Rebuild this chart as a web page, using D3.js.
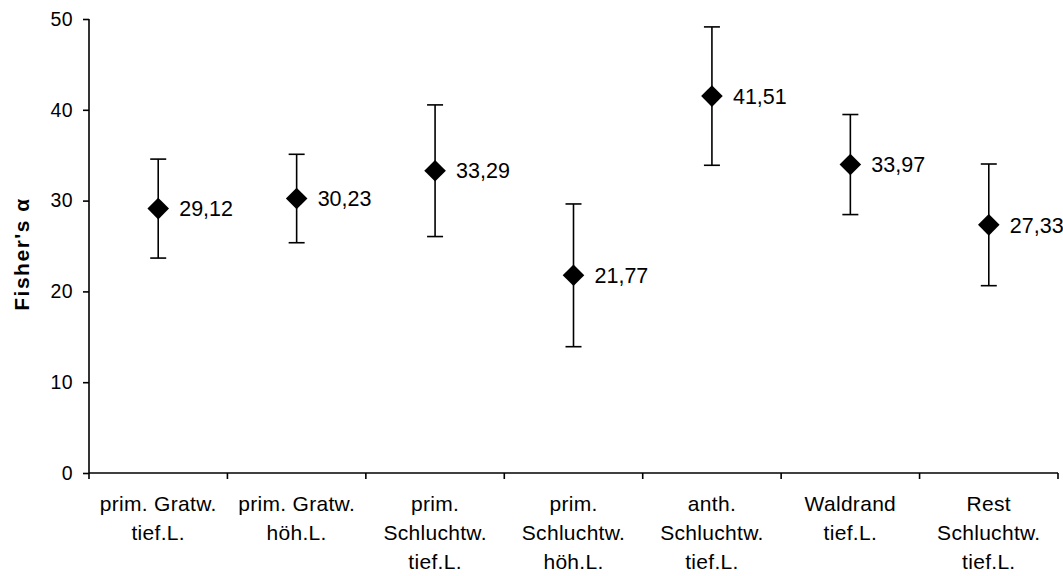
<!DOCTYPE html>
<html>
<head>
<meta charset="utf-8">
<script src="https://cdn.jsdelivr.net/npm/d3@7"></script>
<style>
  html, body { margin: 0; padding: 0; background: #fff; }
  svg { display: block; font-family: "Liberation Sans", Arial, sans-serif; }
</style>
</head>
<body>
<svg id="chart" width="1063" height="576"></svg>
<script>
const categories = [
  ["prim. Gratw.", "tief.L."],
  ["prim. Gratw.", "höh.L."],
  ["prim.", "Schluchtw.", "tief.L."],
  ["prim.", "Schluchtw.", "höh.L."],
  ["anth.", "Schluchtw.", "tief.L."],
  ["Waldrand", "tief.L."],
  ["Rest", "Schluchtw.", "tief.L."]
];
const values = [29.12, 30.23, 33.29, 21.77, 41.51, 33.97, 27.33];
const errors = [5.45, 4.87, 7.25, 7.86, 7.62, 5.51, 6.70];
const labels = ["29,12", "30,23", "33,29", "21,77", "41,51", "33,97", "27,33"];
const yTicks = [0, 10, 20, 30, 40, 50];
const yTitle = "Fisher's α";

(function () {
const svg = d3.select("#chart");
const mLeft = 89, mRight = 1058, mTop = 19, mBottom = 473;

const x = d3.scaleBand().domain(d3.range(categories.length)).range([mLeft, mRight]).padding(0);
const y = d3.scaleLinear().domain([0, 50]).range([mBottom, mTop]);

// y axis
const yAxis = d3.axisLeft(y).tickValues(yTicks).tickSize(6).tickPadding(10);
const gy = svg.append("g").attr("transform", `translate(${mLeft},0)`).call(yAxis);
gy.select(".domain").attr("stroke", "#000").attr("stroke-width", 1.6).attr("d", `M0,${mBottom}V${mTop}`);
gy.selectAll(".tick line").attr("stroke", "#000").attr("stroke-width", 1.6);
gy.selectAll(".tick text").attr("fill", "#000").style("font-size", "19.5px").style("letter-spacing", "0.4px");

// x axis line with boundary ticks
const gx = svg.append("g");
gx.append("line").attr("x1", mLeft).attr("x2", mRight).attr("y1", mBottom).attr("y2", mBottom)
  .attr("stroke", "#000").attr("stroke-width", 1.6);
const bounds = d3.range(categories.length + 1).map(i => i < categories.length ? x(i) : x(categories.length - 1) + x.bandwidth());
gx.selectAll("line.tk").data(bounds).join("line").attr("class", "tk")
  .attr("x1", d => d).attr("x2", d => d).attr("y1", mBottom).attr("y2", mBottom + 6)
  .attr("stroke", "#000").attr("stroke-width", 1.6);

// category labels
categories.forEach((lines, i) => {
  const t = svg.append("text").attr("text-anchor", "middle").attr("fill", "#000")
    .style("font-size", "21px").style("letter-spacing", "0.3px");
  lines.forEach((ln, j) => {
    t.append("tspan").attr("x", x(i) + x.bandwidth() / 2).attr("y", 511 + j * 29).text(ln);
  });
});

// y title
svg.append("text")
  .attr("transform", `translate(${29},${254}) rotate(-90)`)
  .attr("text-anchor", "middle").attr("fill", "#000")
  .style("font-size", "21px").style("font-weight", "bold").style("letter-spacing", "1.5px")
  .text(yTitle);

// error bars
const cx = i => x(i) + x.bandwidth() / 2;
const eb = svg.append("g").attr("stroke", "#000").attr("stroke-width", 1.6);
values.forEach((v, i) => {
  const hi = y(v + errors[i]), lo = y(v - errors[i]);
  eb.append("line").attr("x1", cx(i)).attr("x2", cx(i)).attr("y1", hi).attr("y2", lo);
  eb.append("line").attr("x1", cx(i) - 8).attr("x2", cx(i) + 8).attr("y1", hi).attr("y2", hi);
  eb.append("line").attr("x1", cx(i) - 8).attr("x2", cx(i) + 8).attr("y1", lo).attr("y2", lo);
});

// markers
const sym = d3.symbol().type(d3.symbolSquare).size(233);
svg.append("g").selectAll("path").data(values).join("path")
  .attr("d", sym)
  .attr("transform", (d, i) => `translate(${cx(i)},${y(d)}) rotate(45)`)
  .attr("fill", "#000");

// data labels
svg.append("g").selectAll("text").data(values).join("text")
  .attr("x", (d, i) => cx(i) + 21)
  .attr("y", d => y(d))
  .attr("dy", "0.36em")
  .attr("fill", "#000")
  .style("font-size", "21.5px")
  .text((d, i) => labels[i]);
})();
</script>
</body>
</html>
